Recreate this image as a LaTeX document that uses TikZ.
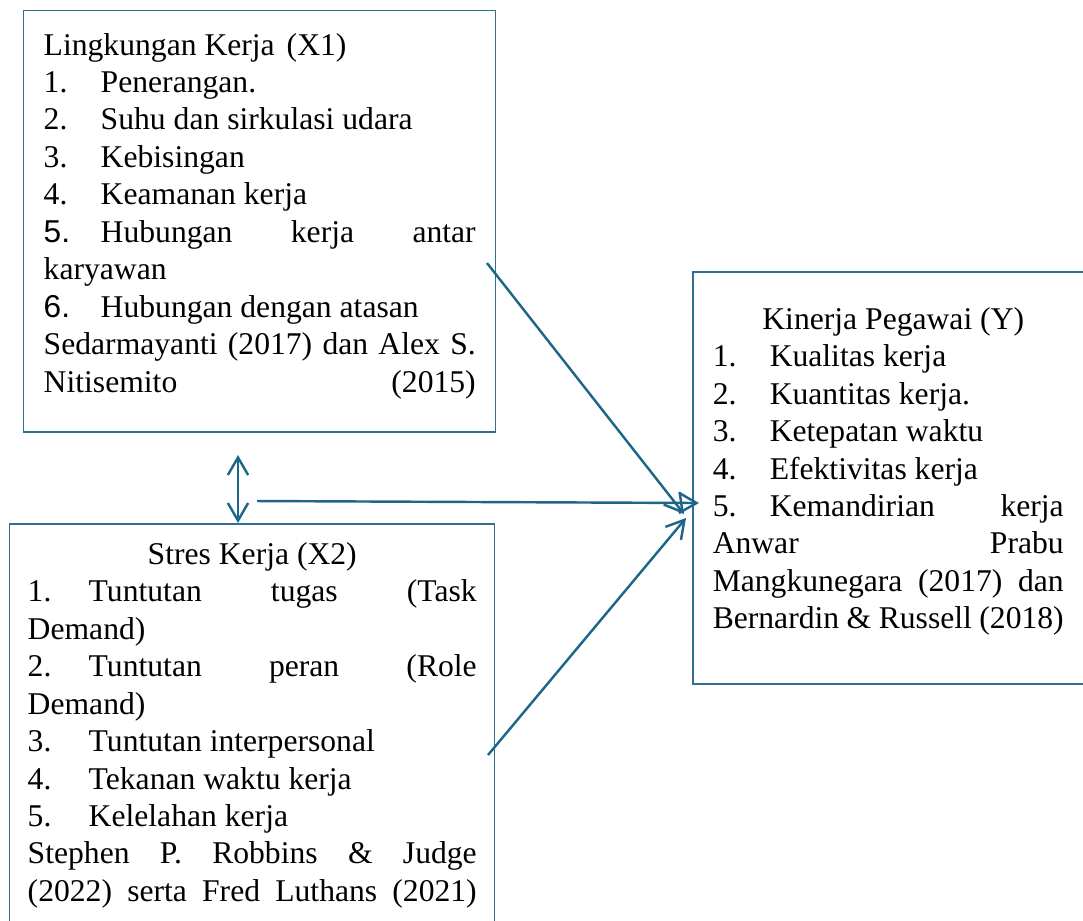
\documentclass[tikz,border=0pt]{standalone}
\usepackage{fontspec}
\setmainfont{Liberation Serif}
\newfontfamily\numsans{Liberation Sans}
\usetikzlibrary{arrows.meta}
\definecolor{frame-blue}{HTML}{2F6F91}
\definecolor{arrow-blue}{HTML}{1E6688}
\newlength{\pxlen}
\setlength{\pxlen}{0.013cm}
\newcommand{\lbl}[2][57]{\makebox[#1\pxlen][l]{#2}}
\newcommand{\boxfont}{\fontsize{11.7pt}{13.87pt}\selectfont\setlength{\parindent}{0pt}\hyphenpenalty=10000\tolerance=10000\hbadness=10000}
\tikzset{
    frame-box/.style = {draw=frame-blue, line width=0.55pt, rectangle, anchor=north west, inner sep=0pt},
    link-arrow/.style = {draw=arrow-blue, line width=0.9pt, -{Straight Barb[length=6.5pt, width=7.5pt]}},
}

\begin{document}
\begin{tikzpicture}[x=0.013cm, y=-0.013cm]
\useasboundingbox (0,0) rectangle (1083,920);
\clip (0,0) rectangle (1083,920);

\node [frame-box, inner xsep=20\pxlen, inner ysep=18\pxlen] (x1) at (23,10) {\begin{minipage}[t][385\pxlen][t]{432\pxlen}\boxfont
    \strut Lingkungan Kerja\hspace{1.5pt} (X1)\par
    \lbl{1.}Penerangan.\par
    \lbl{2.}Suhu dan sirkulasi udara\par
    \lbl{3.}Kebisingan\par
    \lbl{4.}Keamanan kerja\par
    \lbl{\numsans 5.}Hubungan kerja antar\linebreak karyawan\par
    \lbl{\numsans 6.}Hubungan dengan atasan\par
    Sedarmayanti (2017) dan Alex S.\linebreak Nitisemito\hfill(2015)\par
\end{minipage}};

\node [frame-box, inner xsep=18\pxlen, inner ysep=14\pxlen] (x2) at (9,523) {\begin{minipage}[t][420\pxlen][t]{449\pxlen}\boxfont
    {\centering\strut Stres Kerja (X2)\par}
    \lbl[61]{1.}Tuntutan tugas (Task\linebreak Demand)\par
    \lbl[61]{2.}Tuntutan peran (Role\linebreak Demand)\par
    \lbl[61]{3.}Tuntutan interpersonal\par
    \lbl[61]{4.}Tekanan waktu kerja\par
    \lbl[61]{5.}Kelelahan kerja\par
    {\parfillskip=0pt Stephen P. Robbins \& Judge\linebreak (2022) serta Fred Luthans (2021)\par}
\end{minipage}};

\node [frame-box, inner xsep=20\pxlen, inner ysep=18\pxlen] (y) at (692,271) {\begin{minipage}[t][376\pxlen][t]{361\pxlen}\boxfont\setlength{\rightskip}{10\pxlen}
    \vspace*{13\pxlen}
    {\centering\strut Kinerja Pegawai (Y)\par}
    \lbl{1.}Kualitas kerja\par
    \lbl{2.}Kuantitas kerja.\par
    \lbl{3.}Ketepatan waktu\par
    \lbl{4.}Efektivitas kerja\par
    {\parfillskip=0pt \lbl{5.}Kemandirian kerja\linebreak Anwar Prabu\linebreak Mangkunegara (2017) dan\linebreak Bernardin \& Russell (2018)\par}
\end{minipage}};

\coordinate (x1-out) at (487,263);
\coordinate (x2-out) at (488,755);
\coordinate (mid-out) at (257,501);
\coordinate (pair-top) at (238,455);
\coordinate (y-in-a) at (684,514);
\coordinate (y-in-b) at (699,503);
\coordinate (y-in-c) at (686,518);

\draw [link-arrow] (x1-out) -- (y-in-a);
\draw [link-arrow] (mid-out) -- (y-in-b);
\draw [link-arrow] (x2-out) -- (y-in-c);
\draw [link-arrow, {Straight Barb[length=6.5pt, width=7.5pt]}-{Straight Barb[length=6.5pt, width=7.5pt]}] (pair-top) -- (pair-top |- x2.north);
\end{tikzpicture}
\end{document}
